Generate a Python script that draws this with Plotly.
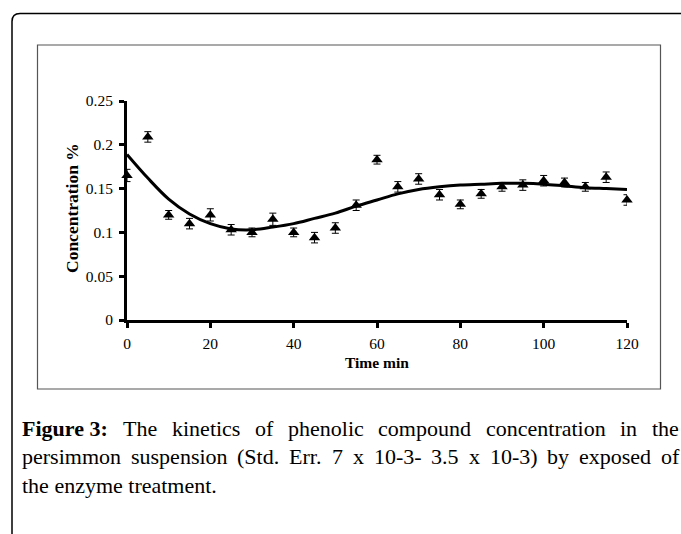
import plotly.graph_objects as go

# ---- data ----
time_min = [0, 5, 10, 15, 20, 25, 30, 35, 40, 45, 50, 55, 60, 65, 70, 75, 80, 85, 90, 95, 100, 105, 110, 115, 120]
concentration = [0.165, 0.209, 0.120, 0.110, 0.120, 0.103, 0.100, 0.115, 0.100, 0.094, 0.105, 0.131, 0.183,
                 0.152, 0.161, 0.143, 0.132, 0.144, 0.152, 0.154, 0.159, 0.157, 0.152, 0.163, 0.137]
std_err = [0.007, 0.006, 0.005, 0.006, 0.007, 0.006, 0.005, 0.007, 0.005, 0.006, 0.006, 0.006, 0.005,
           0.006, 0.006, 0.006, 0.005, 0.005, 0.005, 0.006, 0.006, 0.005, 0.005, 0.006, 0.006]
trend_x = [0, 5, 10, 15, 20, 25, 30, 35, 40, 45, 50, 55, 60, 65, 70, 75, 80, 85, 90, 95, 100, 105, 110, 115, 120]
trend_y = [0.189, 0.162, 0.138, 0.121, 0.110, 0.104, 0.103, 0.106, 0.110, 0.116, 0.122, 0.130, 0.137,
           0.144, 0.149, 0.152, 0.154, 0.155, 0.156, 0.156, 0.155, 0.153, 0.151, 0.150, 0.149]
x_ticks = [0, 20, 40, 60, 80, 100, 120]
y_ticks = [0, 0.05, 0.1, 0.15, 0.2, 0.25]
y_tick_text = ["0", "0.05", "0.1", "0.15", "0.2", "0.25"]
x_title = "Time min"
y_title = "Concentration %"
caption_bold = "Figure 3:"
caption_lines = [
    ["Figure 3:", "The", "kinetics", "of", "phenolic", "compound", "concentration", "in", "the"],
    ["persimmon", "suspension", "(Std.", "Err.", "7", "x", "10-3-", "3.5", "x", "10-3)", "by", "exposed", "of"],
    ["the", "enzyme", "treatment."],
]

W, H = 681, 534
L, R, T, B = 127, 627, 101, 320  # plot area in pixels


def px(x):
    return (x - L) / (R - L)


def py(y):
    return (B - y) / (B - T)


SERIF = "Liberation Serif, Times New Roman, serif"

# Times / Liberation Serif advance widths (1/1000 em), used to justify caption lines
REG = {" ": 250, "(": 333, ")": 333, "-": 333, ".": 250, ":": 278, "%": 833,
       "E": 611, "S": 556, "T": 611, "F": 556,
       "a": 444, "b": 500, "c": 444, "d": 500, "e": 444, "f": 333, "g": 500, "h": 500,
       "i": 278, "j": 278, "k": 500, "l": 278, "m": 778, "n": 500, "o": 500, "p": 500,
       "q": 500, "r": 333, "s": 389, "t": 278, "u": 500, "v": 500, "w": 722, "x": 500,
       "y": 500, "z": 444}
BOLD = {"F": 611, "i": 278, "g": 500, "u": 556, "r": 444, "e": 444, ":": 333, " ": 250}


def word_width(word, size, bold=False):
    table = BOLD if bold else REG
    return sum(table.get(ch, 500) for ch in word) * size / 1000.0


CAP_SIZE = 22
CAP_X0, CAP_X1 = 20, 677
CAP_Y0, CAP_DY = 428, 28.5

fig = go.Figure()

fig.add_trace(go.Scatter(
    x=trend_x, y=trend_y, mode="lines",
    line=dict(color="black", width=3, shape="spline", smoothing=1.0),
    hoverinfo="skip", showlegend=False, cliponaxis=False,
))

fig.add_trace(go.Scatter(
    x=time_min, y=concentration, mode="markers",
    marker=dict(symbol="triangle-up", size=10, color="black"),
    error_y=dict(type="data", array=std_err, visible=True, color="black", thickness=1, width=3.5),
    showlegend=False, cliponaxis=False,
))

fig.update_xaxes(
    range=[0, 120], tickvals=x_ticks, ticktext=[str(v) for v in x_ticks],
    showline=True, linecolor="black", linewidth=3, ticks="outside", ticklen=5, tickwidth=3,
    tickcolor="black", showgrid=False, zeroline=False, ticklabelstandoff=2,
    tickfont=dict(family=SERIF, size=15.5, color="black"),
)
fig.update_yaxes(
    range=[0, 0.25], tickvals=y_ticks, ticktext=y_tick_text,
    showline=True, linecolor="black", linewidth=3, ticks="outside", ticklen=5, tickwidth=3,
    tickcolor="black", showgrid=False, zeroline=False, ticklabelstandoff=3,
    tickfont=dict(family=SERIF, size=15.5, color="black"),
)

shapes = []
# inner chart frame
shapes.append(dict(type="rect", xref="paper", yref="paper",
                   x0=px(37.5), x1=px(660.5), y0=py(389), y1=py(45),
                   line=dict(color="#555555", width=1.2), layer="below"))
# outer rounded frame (top-left corner)
r = 8
path = (f"M {px(12)},{py(540)} L {px(12)},{py(13.5 + r)} "
        f"Q {px(12)},{py(13.5)} {px(12 + r)},{py(13.5)} L {px(690)},{py(13.5)}")
shapes.append(dict(type="path", xref="paper", yref="paper", path=path,
                   line=dict(color="black", width=1.5)))

annotations = [
    dict(text=f"<b>{y_title}</b>", x=px(72), y=py(208), xref="paper", yref="paper",
         textangle=-90, showarrow=False, xanchor="center", yanchor="middle",
         font=dict(family=SERIF, size=17.5, color="black")),
    dict(text=f"<b>{x_title}</b>", x=px(377), y=py(362), xref="paper", yref="paper",
         showarrow=False, xanchor="center", yanchor="middle",
         font=dict(family=SERIF, size=15.5, color="black")),
]


def cap_annot(text, x, y, bold=False):
    return dict(text=f"<b>{text}</b>" if bold else text, x=px(x), y=py(y),
                xref="paper", yref="paper", showarrow=False,
                xanchor="left", yanchor="middle", align="left",
                font=dict(family=SERIF, size=CAP_SIZE, color="black"))


for i, words in enumerate(caption_lines):
    y = CAP_Y0 + i * CAP_DY
    if i == len(caption_lines) - 1:
        # last line of a justified paragraph: natural spacing
        annotations.append(cap_annot(" ".join(words), CAP_X0, y))
        continue
    flags = [w == caption_bold for w in words]
    widths = [word_width(w, CAP_SIZE, b) for w, b in zip(words, flags)]
    gap = (CAP_X1 - CAP_X0 - sum(widths)) / (len(words) - 1)
    x = CAP_X0
    for w, b, wd in zip(words, flags, widths):
        annotations.append(cap_annot(w, x, y, b))
        x += wd + gap

fig.update_layout(
    width=W, height=H,
    margin=dict(l=L, r=W - R, t=T, b=H - B, autoexpand=False),
    paper_bgcolor="white", plot_bgcolor="white",
    shapes=shapes, annotations=annotations,
)

fig.write_html("out.html")
